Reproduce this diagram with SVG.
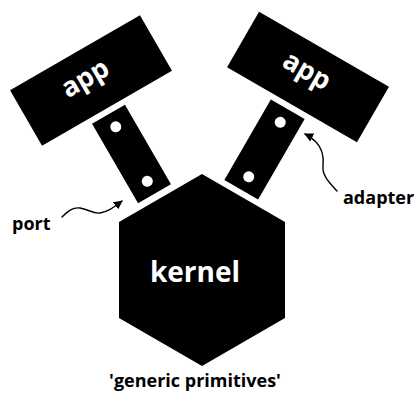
<svg xmlns="http://www.w3.org/2000/svg" width="414" height="394" viewBox="0 0 414 394">
<style>
.shape{fill:#000}
.dot{fill:#fff}
.inv{fill:#fff;font-family:"Open Sans","Noto Sans",sans-serif;font-weight:700;text-anchor:middle}
.lbl{fill:#000;font-family:"Open Sans","Noto Sans",sans-serif;font-weight:700;font-size:18px}
.conn{fill:none;stroke:#000;stroke-width:1.4;stroke-linecap:round}
</style>
<defs>
<marker id="ah" viewBox="0 0 10 10" refX="9" refY="5" markerWidth="9" markerHeight="9" markerUnits="userSpaceOnUse" orient="auto">
<path d="M0,0 L10,5 L0,10 Z" fill="#000"/>
</marker>
</defs>
<rect width="414" height="394" fill="#fff"/>
<g id="app-left" transform="translate(91,80.5) rotate(-30)">
<rect class="shape" x="-75" y="-32" width="150" height="64"/>
<text class="inv" x="-4" y="4" font-size="27">app</text>
</g>
<g id="app-right" transform="translate(308,77) rotate(30)">
<rect class="shape" x="-75" y="-32" width="150" height="64"/>
<text class="inv" x="-4" y="4" font-size="27">app</text>
</g>
<g id="port-left" transform="translate(131.5,154) rotate(-30)">
<rect class="shape" x="-19" y="-46" width="38" height="92"/>
<circle class="dot" cx="0" cy="-31.5" r="5.5"/>
<circle class="dot" cx="0" cy="31.5" r="5.5"/>
</g>
<g id="port-right" transform="translate(264.5,149.5) rotate(30)">
<rect class="shape" x="-19.5" y="-46.5" width="39" height="93"/>
<circle class="dot" cx="0" cy="-31.5" r="5.5"/>
<circle class="dot" cx="0" cy="31.5" r="5.5"/>
</g>
<g id="kernel">
<polygon class="shape" points="202,174 285,222 285,318 202,366 119,318 119,222"/>
<text class="inv" x="195" y="282" font-size="28">kernel</text>
</g>
<g id="label-port"><text class="lbl" x="12" y="230">port</text></g>
<g id="label-adapter"><text class="lbl" x="343" y="204">adapter</text></g>
<g id="label-generic"><text class="lbl" x="195" y="387" text-anchor="middle">'generic primitives'</text></g>
<g id="connectors">
<path class="conn" marker-end="url(#ah)" d="M62,217 C68,211 73,207 80,208 C88,209 93,214 100,213 C108,212 114,207 122,201"/>
<path class="conn" marker-end="url(#ah)" d="M337,191 C330,183 322,176 323,166 C324,156 322,148 316,142 C312,138 309,136 305,134"/>
</g>
</svg>
